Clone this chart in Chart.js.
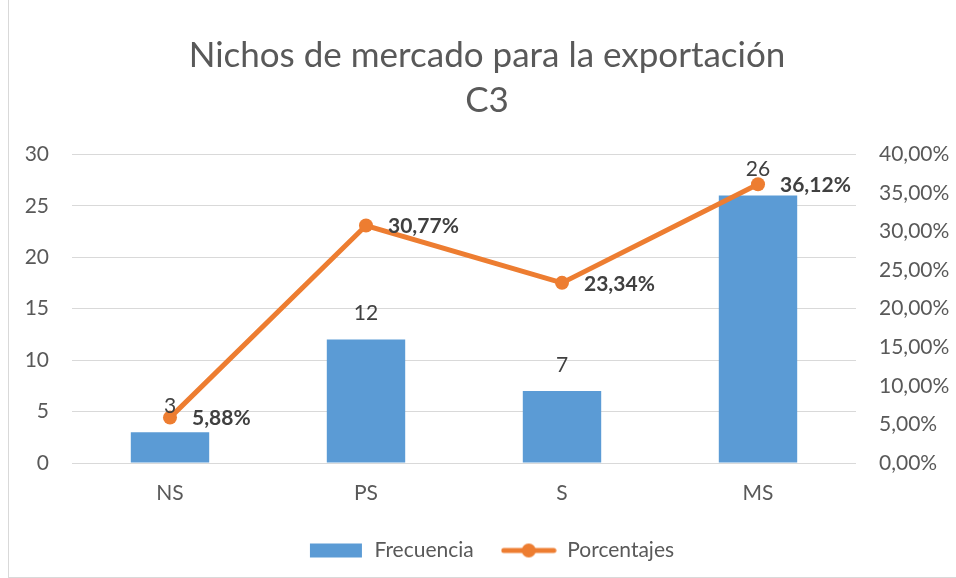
<!doctype html>
<html lang="es"><head><meta charset="utf-8">
<title>Nichos de mercado para la exportación C3</title>
<script src="https://cdn.jsdelivr.net/npm/chart.js@4.4.0/dist/chart.umd.min.js"></script>
<style>
  *{box-sizing:border-box}
  html,body{margin:0;padding:0;background:#fff}
  #wrap{position:relative;width:956px;height:578px;overflow:hidden}
  #frame{position:absolute;left:8px;top:-1px;width:960px;height:579px;border:1px solid #d9d9d9;pointer-events:none}
</style></head><body>
<div id="wrap">
  <canvas id="c" width="956" height="578"></canvas>
  <div id="frame"></div>
</div>
<script>
// categorías y series
const CATEGORIES = ['NS', 'PS', 'S', 'MS'];
const FRECUENCIA = [3, 12, 7, 26];
const PORCENTAJES = [5.88, 30.77, 23.34, 36.12];
const LEFT_TICKS = [0, 5, 10, 15, 20, 25, 30];
const RIGHT_TICKS = [0, 5, 10, 15, 20, 25, 30, 35, 40];

const BLUE = '#5b9bd5';
const ORANGE = '#ed7d31';
const GREY = '#595959';
const FONT = 'Lato, "Open Sans", sans-serif';

const fmtPct = v => v.toFixed(2).replace('.', ',') + '%';

// iconos de la leyenda: rectángulo azul y línea con punto
function legendIcon(kind) {
  const cv = document.createElement('canvas');
  cv.width = 56; cv.height = 16;
  const g = cv.getContext('2d');
  if (kind === 'bar') {
    g.fillStyle = BLUE;
    g.fillRect(2, 1, 52, 14);
  } else {
    g.strokeStyle = ORANGE; g.lineWidth = 5; g.lineCap = 'round';
    g.beginPath(); g.moveTo(3, 8); g.lineTo(53, 8); g.stroke();
    g.fillStyle = ORANGE;
    g.beginPath(); g.arc(28, 8, 7, 0, Math.PI * 2); g.fill();
  }
  return cv;
}

// centra título y leyenda sobre el área del gráfico (no sobre todo el lienzo)
const nudgeBoxes = {
  id: 'nudgeBoxes',
  afterLayout(chart) {
    const shift = (box, d) => { if (box) { box.left += d; box.right += d; } };
    shift(chart.titleBlock, 9);
    shift(chart.legend, 13);
  }
};

// etiquetas de valor sobre barras y junto a los puntos
const valueLabels = {
  id: 'valueLabels',
  afterDatasetsDraw(chart) {
    const { ctx, chartArea } = chart;
    ctx.save();
    const bars = chart.getDatasetMeta(1).data;
    ctx.font = '21px ' + FONT;
    ctx.fillStyle = '#404040';
    ctx.textAlign = 'center';
    ctx.textBaseline = 'middle';
    bars.forEach((b, i) => ctx.fillText(String(FRECUENCIA[i]), b.x, b.y - 26));

    const pts = chart.getDatasetMeta(0).data;
    ctx.font = 'bold 21px ' + FONT;
    ctx.textAlign = 'left';
    pts.forEach((p, i) => {
      const t = fmtPct(PORCENTAJES[i]);
      const w = ctx.measureText(t).width;
      const x = Math.min(p.x + 22, chartArea.right - w - 4);
      ctx.fillText(t, x, p.y + 1);
    });
    ctx.restore();
  }
};

new Chart(document.getElementById('c'), {
  data: {
    labels: CATEGORIES,
    datasets: [
      {
        type: 'line', label: 'Porcentajes', data: PORCENTAJES, yAxisID: 'y1',
        borderColor: ORANGE, backgroundColor: ORANGE, borderWidth: 5,
        pointRadius: 7, pointHoverRadius: 7, pointBackgroundColor: ORANGE,
        pointBorderWidth: 0, tension: 0, order: 0
      },
      {
        type: 'bar', label: 'Frecuencia', data: FRECUENCIA, yAxisID: 'y',
        backgroundColor: BLUE, barPercentage: 0.4, categoryPercentage: 1, order: 1
      }
    ]
  },
  options: {
    responsive: false, animation: false,
    layout: { padding: { left: 0, right: 0, top: 0, bottom: 7 } },
    plugins: {
      title: {
        display: true,
        text: ['Nichos de mercado para la exportación', 'C3'],
        color: GREY,
        font: { family: FONT, size: 35, weight: 'normal', lineHeight: 1.29 },
        padding: { top: 33, bottom: 31 }
      },
      legend: {
        position: 'bottom',
        labels: {
          color: GREY, font: { family: FONT, size: 21 },
          usePointStyle: true, pointStyleWidth: 56, padding: 27,
          generateLabels: () => [
            { text: 'Frecuencia', pointStyle: legendIcon('bar'), datasetIndex: 1, fontColor: GREY },
            { text: 'Porcentajes', pointStyle: legendIcon('line'), datasetIndex: 0, fontColor: GREY }
          ]
        }
      },
      tooltip: { enabled: false }
    },
    scales: {
      x: {
        grid: { display: false, drawTicks: false },
        border: { display: false },
        ticks: { color: GREY, font: { family: FONT, size: 21 }, padding: 18 },
        afterFit: s => { s.height = 50; }
      },
      y: {
        position: 'left', min: 0, max: 30,
        afterBuildTicks: s => { s.ticks = LEFT_TICKS.map(v => ({ value: v })); },
        grid: { color: '#d9d9d9', lineWidth: 1, drawTicks: false },
        border: { display: false },
        ticks: { color: GREY, font: { family: FONT, size: 21 }, padding: 23 },
        afterFit: s => { s.width = 72; }
      },
      y1: {
        position: 'right', min: 0, max: 40,
        afterBuildTicks: s => { s.ticks = RIGHT_TICKS.map(v => ({ value: v })); },
        grid: { display: false, drawTicks: false },
        border: { display: false },
        ticks: { color: GREY, font: { family: FONT, size: 21 }, padding: 23, callback: v => fmtPct(v) },
        afterFit: s => { s.width = 100; }
      }
    }
  },
  plugins: [valueLabels, nudgeBoxes]
});
</script>
</body></html>
